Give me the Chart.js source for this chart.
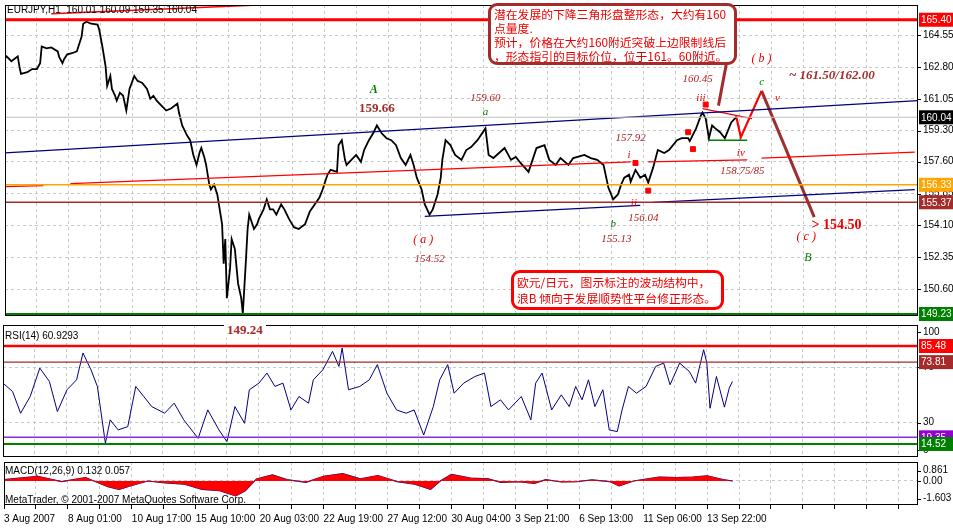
<!DOCTYPE html>
<html><head><meta charset="utf-8">
<script src="https://cdn.jsdelivr.net/npm/chart.js@4/dist/chart.umd.min.js"></script>
<style>
body{margin:0;background:#fff;width:953px;height:530px;overflow:hidden;position:relative;font-family:"Liberation Sans",sans-serif}
.cv{position:absolute;left:0}
.box{position:absolute;background:#fff;color:#e00;font-family:"Noto Sans CJK SC";font-size:11.8px;line-height:14px;padding:0 3px;box-sizing:border-box;border-radius:9px;white-space:nowrap;overflow:hidden}
.t{position:absolute;font-size:10px;color:#000;white-space:nowrap}
</style></head><body>
<div class="cv" style="top:0;width:953px;height:321px"><canvas id="c1"></canvas></div>
<div class="cv" style="top:321px;width:953px;height:139px"><canvas id="c2"></canvas></div>
<div class="cv" style="top:460px;width:953px;height:70px"><canvas id="c3"></canvas></div>
<div class="t" style="left:7px;top:4px">EURJPY,H1&nbsp; 160.01 160.09 159.35 160.04</div>
<div class="t" style="left:5px;top:330px">RSI(14) 60.9293</div>
<div class="t" style="left:5px;top:465px">MACD(12,26,9) 0.132 0.057</div>
<div class="t" style="left:5px;top:494px">MetaTrader, © 2001-2007 MetaQuotes Software Corp.</div>
<div class="t" style="left:224px;top:322px;font:bold 13px 'Liberation Serif';color:#a52a2a;background:#fff;padding:0 3px">149.24</div>
<div class="box" style="left:488px;top:3px;width:249px;height:62px;border:3px solid #a52a2a;padding-top:1px">潜在发展的下降三角形盘整形态，大约有160<br>点量度.<br>预计，价格在大约160附近突破上边限制线后<br>，形态指引的目标价位，位于161。60附近。</div>
<div class="box" style="left:511px;top:270px;width:213px;height:40px;border:3px solid #f00;line-height:16px;padding-top:1px">欧元/日元，图示标注的波动结构中，<br>浪B 倾向于发展顺势性平台修正形态。</div>
<script>
// ---------- data ----------
const timeLabels=["3 Aug 2007","8 Aug 01:00","10 Aug 17:00","15 Aug 10:00","20 Aug 03:00","22 Aug 19:00","27 Aug 12:00","30 Aug 04:00","3 Sep 21:00","6 Sep 13:00","11 Sep 06:00","13 Sep 22:00"];
const priceH=[0,1,4,8,9,10,14,17,20,22,23,26,29,33,34,36,37,39,42,45,48,49,51,54,58,59,61,63,64,66,67,69,70,72,74,76,78,81,83,86,89,91,93,95,98,101,104,108,109,111,114,116,118,120,122,123,125,126,128,129,131,133,134,136,137,138,139,141,142,144,146,148,149,151,152,153,156,158,159,162,164,166,168,170,173,175,178,181,184,188,191,194,197,199,202,204,208,209,211,213,214,217,220,223,225,228,231,233,236,239,242,245,248,251,254,256,258,261,263,266,268,271,273,274,276,279,282,286,289,292,296,301,303,306,313,317,320,323,328,333,338,341,345,348,353,356,363,367,371,375,378,381,384,386,388,391,392,395,398,401,403,406,409,413,416,421,424,428,429,433,436,437,439,441,443,445,448,451,453,455,458];
const priceP=[163.28,163.39,163.12,163.39,162.85,162.42,162.52,162.69,162.69,163.01,163.93,163.83,163.88,163.66,163.34,163.01,163.23,163.50,163.56,163.66,164.48,165.18,165.29,165.18,165.13,164.86,163.93,162.85,161.76,162.31,161.60,161.22,160.95,161.39,161.22,160.41,161.60,162.31,162.04,161.93,161.60,161.06,161.22,160.95,160.68,160.41,160.52,160.79,160.30,159.59,159.05,158.78,157.97,157.42,158.13,158.35,157.80,157.42,156.34,156.07,156.34,155.80,155.25,154.17,152.00,153.35,150.10,151.73,153.35,152.81,150.91,150.10,149.24,152.27,153.90,154.69,153.90,154.17,154.44,154.98,155.53,154.98,154.98,154.69,155.25,154.98,154.44,154.00,153.90,154.17,154.87,155.25,155.63,156.07,156.88,157.15,157.04,158.51,158.78,157.70,157.42,157.70,157.97,157.59,158.24,158.78,159.22,159.59,159.16,158.89,158.78,158.51,157.80,157.42,157.97,157.42,156.72,156.07,155.25,154.69,154.98,155.80,156.72,157.70,158.78,158.51,157.97,157.70,158.24,158.40,158.78,159.43,157.97,157.80,158.35,157.70,157.86,157.53,157.04,158.35,158.51,157.70,157.42,157.80,157.42,157.80,157.97,157.80,157.70,157.42,156.18,155.53,155.80,156.34,156.72,156.88,156.50,157.15,156.72,156.88,156.45,157.26,158.24,158.08,158.24,158.78,158.89,158.89,158.73,159.43,160.14,160.30,159.97,158.89,159.59,159.43,159.22,158.89,159.32,159.76,160.04];
const rsiH=[0,6,11,17,23,29,34,40,46,50,55,59,64,67,72,78,83,88,93,101,107,113,122,128,135,140,145,151,154,160,165,170,175,180,185,191,194,200,206,210,212,216,223,229,234,240,246,252,257,263,269,273,278,282,288,295,301,305,311,316,324,330,333,337,343,349,354,358,362,366,370,375,379,384,387,391,396,402,408,413,417,423,429,433,436,438,440,442,446,451,454,456];
const rsiV=[58.6,52.5,36.8,48.9,69.5,59.8,38.0,53.8,61.0,80.4,68.3,56.2,15.0,32.0,24.7,27.1,56.2,48.9,41.6,36.8,44.1,32.0,18.6,39.2,24.7,16.2,41.6,29.5,53.8,58.6,65.9,56.2,58.6,39.2,48.9,44.1,61.0,68.3,81.6,70.7,84.0,53.8,56.2,61.0,72.0,51.3,39.2,36.8,39.2,21.0,41.6,61.0,72.0,51.3,58.6,63.4,65.9,41.6,46.5,39.2,48.9,32.0,58.6,65.9,39.2,50.1,41.6,56.2,46.5,61.0,41.6,53.8,24.7,23.5,39.2,56.2,51.3,56.2,70.7,73.1,57.4,73.1,67.1,58.6,73.1,82.8,73.1,40.4,63.4,41.2,55.0,59.8];
const macdH=[0,21,36,51,65,72,80,90,101,113,124,135,145,151,158,168,177,189,200,212,223,234,246,257,267,273,280,292,303,311,322,332,339,349,358,368,379,385,394,410,421,431,440,450,456];
const macdV=[0.14,0.5,-0.06,0.37,-0.62,-0.9,-0.48,0,-0.2,-0.34,-0.9,-1.04,-1.6,-1.04,0.22,0.65,0.14,-0.14,0.5,0.79,0.22,0.59,-0.06,-0.34,-0.9,0,0.7,0.31,0.22,-0.14,-0.08,-0.25,0.14,-0.11,-0.08,0.11,-0.06,-0.53,0,0.42,0.37,0.42,0.56,0.14,0];
const priceTicks=[164.55,162.80,161.05,159.30,157.60,155.85,154.10,152.35,150.60];
const levelValues=[165.40,160.04,156.33,155.37,149.23];
const blueUpperH=[0,572], blueUpperP=[158.08,160.95];
const blueLowerH=[263,398,null,406,570], blueLowerP=[154.60,155.20,null,155.36,156.07];
const redMidH=[0,24,null,41,392,null,403,465,null,474,570], redMidP=[156.23,156.28,null,156.39,157.59,null,157.59,157.70,null,157.80,158.13];
const redTopH=[29,159], redTopP=[165.73,166.21];
const zigH=[458,461,474], zigP=[160.14,158.94,161.49];
const wedgeH=[437,468], wedgeP=[160.52,159.97];
const supportH=[441,465], supportP=[158.78,158.78];
const dropH=[474,507], dropP=[161.49,154.55];
const calloutH=[452,447], calloutP=[163.01,160.68];
const squareH=[428,431,439,395,403], squareP=[159.22,158.29,160.74,157.53,156.01];
const rsiLevels=[85.48,73.81,19.35,14.52];

// ---------- helpers ----------
const pts=(h,p)=>h.map((x,i)=>x===null?{x:NaN,y:null}:{x:x,y:p[i]});
const L=(h,p,color,w,extra)=>Object.assign({type:'line',data:pts(h,p),borderColor:color,borderWidth:w,pointRadius:0,tension:0,spanGaps:false,fill:false},extra||{});
const H=(v,color,w)=>L([0,572],[v,v],color,w);
const annots=[
 ['A',231,161.55,'italic bold 12px "Liberation Serif"','#008000'],
 ['159.66',233,160.52,'bold 13px "Liberation Serif"','#a52a2a'],
 ['( a )',262,153.3,'italic 12px "Liberation Serif"','#e00'],
 ['154.52',266,152.27,'italic 11px "Liberation Serif"','#b22222'],
 ['159.60',301,161.11,'italic 11px "Liberation Serif"','#b22222'],
 ['a',301,160.3,'italic 11px "Liberation Serif"','#008000'],
 ['157.92',392,158.89,'italic 11px "Liberation Serif"','#b22222'],
 ['i',391,157.97,'italic 11px "Liberation Serif"','#e00'],
 ['ii',394,155.31,'italic 11px "Liberation Serif"','#e00'],
 ['156.04',400,154.49,'italic 11px "Liberation Serif"','#b22222'],
 ['b',381,154.17,'italic 11px "Liberation Serif"','#008000'],
 ['155.13',383,153.35,'italic 11px "Liberation Serif"','#b22222'],
 ['160.45',434,162.14,'italic 11px "Liberation Serif"','#b22222'],
 ['iii',436,161.11,'italic 11px "Liberation Serif"','#e00'],
 ['iv',461,158.08,'italic 11px "Liberation Serif"','#e00'],
 ['158.75/85',462,157.1,'italic 11px "Liberation Serif"','#b22222'],
 ['( b )',474,163.23,'italic 12px "Liberation Serif"','#e00'],
 ['c',474,161.98,'italic 11px "Liberation Serif"','#008000'],
 ['v',484,161.11,'italic 11px "Liberation Serif"','#e00'],
 ['~ 161.50/162.00',518,162.31,'italic bold 13px "Liberation Serif"','#a52a2a'],
 ['> 154.50',521,154.11,'bold 14px "Liberation Serif"','#e00'],
 ['( c )',502,153.46,'italic 12px "Liberation Serif"','#e00'],
 ['B',503,152.32,'italic 12px "Liberation Serif"','#008000']
];
const LF='10px "Liberation Sans"';
const tagPlugin={id:'tags',afterDraw(ch,a,o){
 const c=ch.ctx,ar=ch.chartArea,x=ch.scales.x,y=ch.scales.y;
 c.save();c.strokeStyle='#000';c.lineWidth=1;c.strokeRect(ar.left+0.5,ar.top+0.5,ar.right-ar.left-1,ar.bottom-ar.top-1);
 c.textBaseline='middle';
 (o.texts||[]).forEach(t=>{c.font=t[3];c.fillStyle=t[4];c.textAlign='center';c.fillText(t[0],x.getPixelForValue(t[1]),y.getPixelForValue(t[2]));});
 c.font=LF;c.textAlign='left';
 (o.labels||[]).forEach(b=>{const py=y.getPixelForValue(b[0]);c.fillStyle='#000';c.fillRect(ar.right,Math.round(py),3,1);c.fillText(b[1],ar.right+5,py);});
 (o.boxes||[]).forEach(b=>{const py=y.getPixelForValue(b[0]);c.fillStyle=b[1];c.fillRect(ar.right+1,py-7,34,14);c.fillStyle='#fff';c.fillText(b[0].toFixed(2),ar.right+3,py+0.5);});
 c.restore();}};
Chart.register(tagPlugin);
const xAxis=(showLabels)=>({type:'linear',min:0,max:572,
 afterBuildTicks(s){const t=[];for(let v=0;v<=560;v+=20)t.push({value:v});s.ticks=t;},
 grid:{color:'#c8c8c8',drawTicks:showLabels,tickLength:4,tickColor:'#000'},border:{display:false,dash:[3,3]},
 ticks:{display:showLabels,autoSkip:false,maxRotation:0,align:'start',padding:4,color:'#000',font:{size:10,family:'Liberation Sans'},
  callback:v=>v%40===0&&timeLabels[v/40]?timeLabels[v/40]:''},
 afterFit(s){s.height=showLabels?25:0;}});
const yAxis=(min,max,ticks)=>({position:'right',min:min,max:max,
 afterBuildTicks(s){s.ticks=ticks.map(v=>({value:v}));},
 grid:{color:'#c8c8c8',drawTicks:false},border:{display:false,dash:[3,3]},
 ticks:{display:false},
 afterFit(s){s.width=35;}});
const base={responsive:true,maintainAspectRatio:false,animation:false,events:[],
 plugins:{legend:{display:false},tooltip:{enabled:false}}};

// ---------- main chart ----------
new Chart(document.getElementById('c1'),{type:'line',data:{datasets:[
 H(160.04,'#c0c0c0',1),H(156.33,'#ffa500',1.5),H(155.37,'#a52a2a',1.5),H(149.23,'#008000',2),H(165.40,'#f00',3),
 L(blueUpperH,blueUpperP,'#000080',1.3),L(blueLowerH,blueLowerP,'#000080',1.3),L(redMidH,redMidP,'#f00',1.3),L(redTopH,redTopP,'#f00',1.5),
 L(priceH,priceP,'#000',1.8),
 L(wedgeH,wedgeP,'#f00',1.2),L(supportH,supportP,'#008000',1.5),L(zigH,zigP,'#f00',2.2),L(dropH,dropP,'#9b3030',3),L(calloutH,calloutP,'#a52a2a',3),
 {type:'scatter',data:pts(squareH,squareP),pointStyle:'rect',pointRadius:3.5,backgroundColor:'#f00',borderColor:'#f00'}
]},options:Object.assign({},base,{layout:{padding:{left:3,top:3,bottom:3,right:0}},
 scales:{x:xAxis(false),y:yAxis(149.12,166.21,priceTicks)},
 plugins:Object.assign({},base.plugins,{tags:{texts:annots,labels:priceTicks.map(v=>[v,v.toFixed(2)]),
  boxes:[[165.40,'#f00'],[160.04,'#000'],[156.33,'#ffa500'],[155.37,'#a52a2a'],[149.23,'#008000']]}})})});

// ---------- RSI ----------
new Chart(document.getElementById('c2'),{type:'line',data:{datasets:[
 H(85.48,'#f00',2.5),H(73.81,'#a52a2a',1.2),H(19.35,'#8a2be2',1.5),H(14.52,'#008000',2),
 L(rsiH,rsiV,'#000080',1)
]},options:Object.assign({},base,{layout:{padding:{left:3,top:4,bottom:3,right:0}},
 scales:{x:xAxis(false),y:yAxis(5.1,100.7,[70,30])},
 plugins:Object.assign({},base.plugins,{tags:{labels:[[95.5,'100'],[70,'70'],[30,'30'],[10,'0']],
  boxes:[[85.48,'#f00'],[73.81,'#a52a2a'],[19.35,'#9400d3'],[14.52,'#008000']]}})})});

// ---------- MACD ----------
new Chart(document.getElementById('c3'),{type:'line',data:{datasets:[
 L(macdH,macdV,'#f00',0.5,{fill:'origin',backgroundColor:'#f00'}),
 L(macdH,macdV,'#000080',1.2)
]},options:Object.assign({},base,{layout:{padding:{left:3,top:2,bottom:0,right:0}},
 scales:{x:xAxis(true),y:yAxis(-2.58,2.04,[0])},
 plugins:Object.assign({},base.plugins,{tags:{labels:[[1.1,'0.861'],[0,'0.00'],[-1.9,'-1.603']]}})})});
</script></body></html>
